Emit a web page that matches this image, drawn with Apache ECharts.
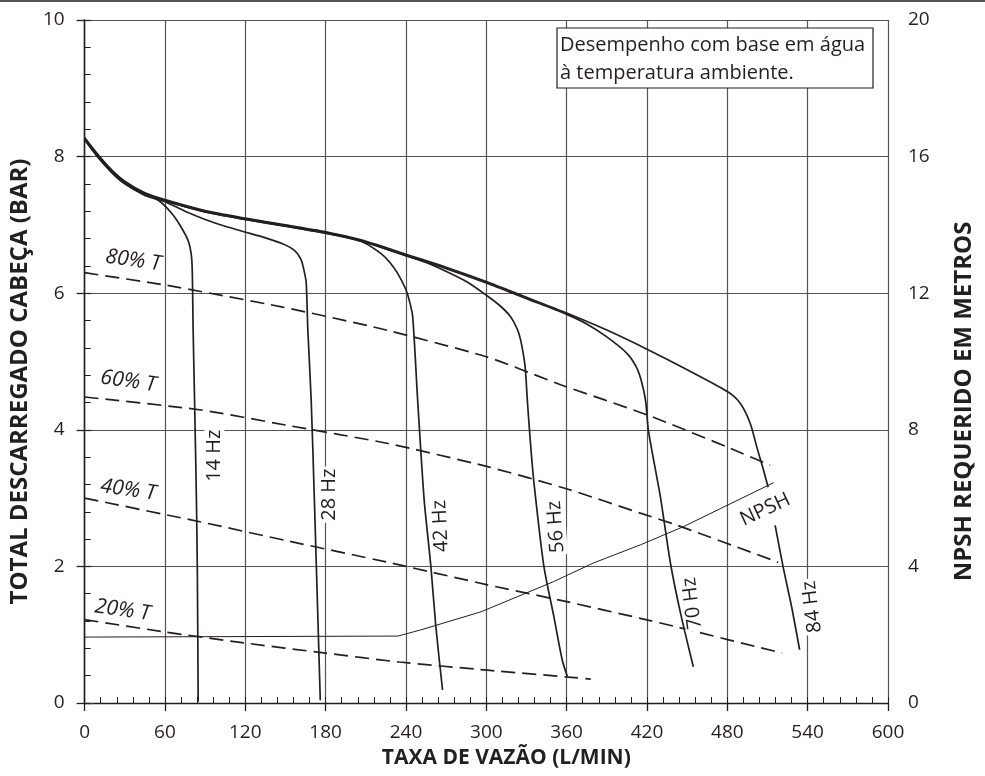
<!DOCTYPE html>
<html>
<head>
<meta charset="utf-8">
<title>Curva de desempenho</title>
<script src="https://cdn.jsdelivr.net/npm/echarts@6/dist/echarts.min.js"></script>
<style>
  html, body { margin: 0; padding: 0; background: #ffffff; }
  #chart { width: 985px; height: 776px; }
</style>
</head>
<body>
<div id="chart"></div>
<script>
// curvas de pressão por frequência: vazão (L/min) x pressão (bar)
const flow14 = [0, 10, 20, 30, 45, 55, 65, 72, 77.5, 80, 80.6, 81, 82.2, 83.5, 84.2, 84.8];
const head14 = [8.25, 7.99, 7.77, 7.6, 7.43, 7.36, 7.17, 6.97, 6.76, 6.5, 6.1, 5.5, 4.34, 2.97, 1.9, 0.02];

const flow28 = [0, 10, 20, 30, 45, 60, 75, 90, 105, 119, 135, 147, 156.5, 161.5, 164, 165.5, 166.7, 169.2, 171.6, 176];
const head28 = [8.25, 7.99, 7.78, 7.61, 7.44, 7.34, 7.2, 7.08, 6.98, 6.9, 6.81, 6.73, 6.63, 6.5, 6.32, 6.15, 5.46, 4.44, 2.97, 0.04];

const flow42 = [0, 10, 20, 30, 45, 60, 90, 120, 150, 180, 195, 208.7, 221.4, 228, 233.8, 240, 242.4, 245, 248.7, 253.6, 258.6, 262.3, 267.3];
const head42 = [8.26, 8.0, 7.79, 7.62, 7.45, 7.35, 7.19, 7.08, 6.98, 6.88, 6.82, 6.74, 6.58, 6.45, 6.29, 6.05, 5.9, 5.66, 4.44, 2.97, 2.0, 1.12, 0.19];

const flow56 = [0, 10, 20, 30, 45, 60, 90, 120, 150, 180, 205, 220, 240, 255, 271, 286, 300, 310, 318, 323, 325.7, 329, 330.6, 333, 335.6, 343, 350.5, 356.7, 360.5];
const head56 = [8.27, 8.01, 7.8, 7.63, 7.46, 7.36, 7.2, 7.09, 6.99, 6.89, 6.78, 6.68, 6.55, 6.45, 6.31, 6.16, 5.97, 5.82, 5.66, 5.48, 5.31, 4.92, 4.44, 3.8, 3.22, 2.0, 1.26, 0.63, 0.39];

const flow70 = [0, 10, 20, 30, 45, 60, 90, 120, 150, 180, 205, 220, 240, 270, 300, 330, 360, 375, 390, 405, 412, 416, 419, 421, 425.5, 430, 437.5, 445, 454.6];
const head70 = [8.26, 8.0, 7.79, 7.62, 7.45, 7.35, 7.19, 7.08, 6.98, 6.88, 6.77, 6.68, 6.55, 6.36, 6.15, 5.92, 5.69, 5.55, 5.36, 5.12, 4.92, 4.7, 4.42, 4.0, 3.5, 3.02, 2.05, 1.32, 0.53];

const flow84 = [0, 10, 20, 30, 45, 60, 90, 120, 150, 180, 205, 220, 240, 270, 300, 330, 360, 390, 420, 450, 480, 489.6, 497, 502, 507, 510.5, 513, 515.7, 521.7, 528, 534];
const head84 = [8.28, 8.03, 7.81, 7.64, 7.47, 7.37, 7.21, 7.1, 7.0, 6.9, 6.79, 6.7, 6.57, 6.38, 6.17, 5.94, 5.71, 5.46, 5.18, 4.88, 4.56, 4.39, 4.1, 3.75, 3.41, 3.16, null, 2.6, 1.99, 1.41, 0.78];

// linhas de torque (tracejadas)
const flowT80 = [0, 60, 147, 219, 300, 355.5, 420, 479.7, 512];
const headT80 = [6.3, 6.12, 5.8, 5.49, 5.07, 4.66, 4.22, 3.75, 3.48];
const flowT60 = [0, 87, 150, 226.5, 301, 361, 415, 443, 518];
const headT60 = [4.48, 4.29, 4.07, 3.8, 3.46, 3.13, 2.78, 2.6, 2.06];
const flowT40 = [0, 87, 150, 226.5, 301, 361, 415, 443, 521];
const headT40 = [3.0, 2.65, 2.38, 2.06, 1.73, 1.48, 1.24, 1.11, 0.73];
const flowT20 = [0, 60, 119, 180, 235, 301, 361, 378];
const headT20 = [1.22, 1.04, 0.88, 0.73, 0.6, 0.48, 0.38, 0.35];

// NPSH requerido (metros, eixo da direita)
const flowNpsh = [0, 234, 251, 296, 350, 380, 415, 447, 514.5];
const npshM = [1.93, 1.96, 2.14, 2.67, 3.55, 4.1, 4.63, 5.16, 6.45];

// rótulos (posição em unidades dos eixos: L/min, bar)
const hzText = ['14 Hz', '28 Hz', '42 Hz', '56 Hz', '70 Hz', '84 Hz'];
const hzLabelX = [96.9, 182.6, 266, 352, 453.9, 543.3];
const hzLabelY = [3.62, 3.05, 2.59, 2.58, 1.46, 1.41];
const torqueText = ['80% T', '60% T', '40% T', '20% T'];
const torqueLabelX = [36.3, 32.6, 32.6, 28.3];
const torqueLabelY = [6.48, 4.71, 3.12, 1.36];
const npshText = ['NPSH'];
const npshLabelX = [508.3];
const npshLabelY = [2.83];

const noteLines = ['Desempenho com base em água', 'à temperatura ambiente.'];

const INK = '#231f20';
const GRIDC = '#555555';
const FONT = '"Open Sans", "Noto Sans", sans-serif';

function pairs(xs, ys) {
  return xs.map((x, i) => [x, ys[i] === null ? '-' : ys[i]]);
}

const hzSeries = [
  [flow14, head14], [flow28, head28], [flow42, head42],
  [flow56, head56], [flow70, head70], [flow84, head84]
].map((c, i) => ({
  name: hzText[i],
  type: 'line',
  data: pairs(c[0], c[1]),
  showSymbol: false,
  smooth: 0.25,
  connectNulls: false,
  lineStyle: { color: INK, width: 1.7 },
  z: 5
}));

const torqueSeries = [
  [flowT80, headT80], [flowT60, headT60], [flowT40, headT40], [flowT20, headT20]
].map((c, i) => ({
  name: torqueText[i],
  type: 'line',
  data: pairs(c[0], c[1]),
  showSymbol: false,
  smooth: 0.2,
  lineStyle: { color: INK, width: 1.7, type: [14, 7] },
  z: 4
}));

const npshSeries = {
  name: 'NPSH',
  type: 'line',
  yAxisIndex: 1,
  data: pairs(flowNpsh, npshM),
  showSymbol: false,
  lineStyle: { color: INK, width: 1 },
  z: 4
};

// textos posicionados pelas escalas dos eixos (série custom)
function textSeries(texts, xs, ys, angles, font, bg) {
  return {
    type: 'custom',
    silent: true,
    z: 6,
    data: xs.map((x, i) => [x, ys[i], i]),
    renderItem: function (params, api) {
      const i = api.value(2);
      const p = api.coord([api.value(0), api.value(1)]);
      return {
        type: 'text',
        x: p[0],
        y: p[1],
        rotation: angles[i] * Math.PI / 180,
        style: {
          text: texts[i],
          fill: INK,
          font: font,
          align: 'center',
          verticalAlign: 'middle',
          backgroundColor: bg ? '#ffffff' : null,
          padding: bg ? [0, 2] : 0
        }
      };
    }
  };
}

const hzLabelSeries = textSeries(hzText, hzLabelX, hzLabelY, [90, 90, 93, 94, 97, 97],
  '20px ' + FONT, true);
const torqueLabelSeries = textSeries(torqueText, torqueLabelX, torqueLabelY, [-8, -8, -8, -8],
  'italic 21px ' + FONT, false);
const npshLabelSeries = textSeries(npshText, npshLabelX, npshLabelY, [25],
  '20px ' + FONT, true);

const tickLabel = { color: INK, fontSize: 19, fontFamily: FONT, margin: 20 };

const option = {
  animation: false,
  backgroundColor: '#ffffff',
  grid: { left: 83, right: 97, top: 20, bottom: 73, containLabel: false },
  xAxis: [
    {
      type: 'value', min: 0, max: 600, interval: 60,
      name: 'TAXA DE VAZÃO (L/MIN)', nameLocation: 'middle', nameGap: 45,
      nameTextStyle: { color: INK, fontSize: 21, fontWeight: 'bold', fontFamily: FONT, padding: [0, 0, 0, 40] },
      axisLine: { show: true, onZero: false, lineStyle: { color: INK, width: 1.3 } },
      axisTick: { show: true, inside: false, length: 8, lineStyle: { color: INK, width: 1.3 } },
      axisLabel: tickLabel,
      splitLine: { show: true, lineStyle: { color: GRIDC, width: 1.2 } }
    },
    {
      type: 'value', min: 0, max: 600, interval: 12, position: 'bottom',
      axisLine: { show: false, onZero: false },
      axisTick: { show: true, inside: true, length: 6, lineStyle: { color: INK, width: 1 } },
      axisLabel: { show: false },
      splitLine: { show: false }
    }
  ],
  yAxis: [
    {
      type: 'value', min: 0, max: 10, interval: 2, position: 'left',
      name: 'TOTAL DESCARREGADO CABEÇA (BAR)', nameLocation: 'middle', nameGap: 49, nameRotate: 90,
      nameTextStyle: { color: INK, fontSize: 24, fontWeight: 'bold', fontFamily: FONT, padding: [0, 40, 0, 0] },
      axisLine: { show: true, lineStyle: { color: INK, width: 1.3 } },
      axisTick: { show: true, inside: false, length: 8, lineStyle: { color: INK, width: 1.3 } },
      axisLabel: tickLabel,
      splitLine: { show: true, lineStyle: { color: GRIDC, width: 1.2 } }
    },
    {
      type: 'value', min: 0, max: 20, interval: 4, position: 'right',
      name: 'NPSH REQUERIDO EM METROS', nameLocation: 'middle', nameGap: 64, nameRotate: 90,
      nameTextStyle: { color: INK, fontSize: 24, fontWeight: 'bold', fontFamily: FONT, padding: [0, 80, 0, 0] },
      axisLine: { show: true, lineStyle: { color: INK, width: 1.3 } },
      axisTick: { show: true, inside: false, length: 8, lineStyle: { color: GRIDC, width: 1.3 } },
      axisLabel: tickLabel,
      splitLine: { show: false }
    },
    {
      type: 'value', min: 0, max: 10, interval: 0.4, position: 'left',
      axisLine: { show: false },
      axisTick: { show: true, inside: true, length: 6, lineStyle: { color: INK, width: 1 } },
      axisLabel: { show: false },
      splitLine: { show: false }
    }
  ],
  graphic: [
    {
      type: 'line', shape: { x1: 0, y1: 1, x2: 985, y2: 1 },
      style: { stroke: '#555555', lineWidth: 2 }, z: 10
    },
    {
      type: 'rect', shape: { x: 557, y: 28, width: 316, height: 60 },
      style: { fill: '#ffffff', stroke: INK, lineWidth: 1.2 }, z: 10
    },
    {
      type: 'text', x: 560, y: 31, z: 11,
      style: {
        text: noteLines.join('\n'),
        fill: INK, fontSize: 20, fontFamily: FONT, lineHeight: 28
      }
    }
  ],
  series: [].concat(hzSeries, torqueSeries, [npshSeries, hzLabelSeries, torqueLabelSeries, npshLabelSeries])
};

const chart = echarts.init(document.getElementById('chart'));
chart.setOption(option);
</script>
</body>
</html>
